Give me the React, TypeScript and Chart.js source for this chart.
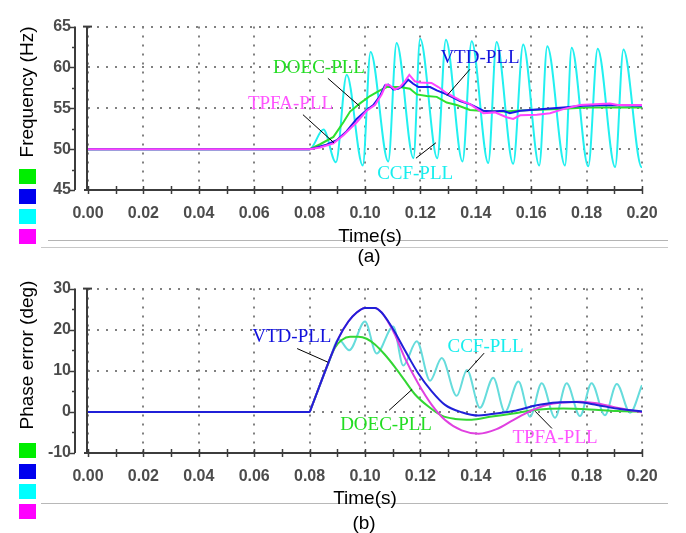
import React, { useEffect, useRef } from 'react';
import { Chart, registerables } from 'chart.js';

Chart.register(...registerables);

type Pt = [number, number];

// ---------- shared time axis ----------
const T_MIN = 0;
const T_MAX = 0.2;
const T_STEP = 0.02;
const T_MINOR = 0.01;

// ---------- (a) frequency (Hz) ----------
const FREQ_MIN = 45;
const FREQ_MAX = 65;
const FREQ_STEP = 5;
const FREQ_MINOR = 2.5;

const FREQ_TPFA: Pt[] = [
  [0, 50], [0.08, 50], [0.0838, 50.2], [0.0886, 50.7], [0.0922, 51.7], [0.097, 53.3],
  [0.1006, 54.7], [0.1036, 55.4], [0.106, 56.7], [0.1076, 57.9], [0.109, 57.8],
  [0.1108, 57.3], [0.1126, 57.6], [0.1144, 58.3], [0.116, 59.1], [0.118, 58.3],
  [0.1199, 58.15], [0.124, 58.1], [0.1265, 57.6], [0.1295, 56.85], [0.1343, 56.0],
  [0.1379, 55.5], [0.1427, 54.4], [0.1469, 54.5], [0.1511, 53.9], [0.1535, 53.7],
  [0.156, 54.15], [0.162, 54.2], [0.1668, 54.4], [0.1716, 54.9], [0.1776, 55.4],
  [0.1884, 55.6], [0.1913, 55.4], [0.2, 55.4],
];
const FREQ_VTD: Pt[] = [
  [0, 50], [0.08, 50], [0.0825, 50.2], [0.0861, 50.55], [0.0898, 51.1], [0.0934, 52.2],
  [0.097, 53.7], [0.1006, 54.8], [0.103, 55.4], [0.1054, 56.5], [0.1072, 57.8],
  [0.1084, 57.9], [0.1102, 57.3], [0.112, 57.4], [0.1138, 57.8], [0.1156, 58.5],
  [0.1174, 58.0], [0.1193, 57.6], [0.1235, 57.6], [0.1259, 57.2], [0.1295, 56.7],
  [0.1343, 55.9], [0.1379, 55.5], [0.1427, 54.7], [0.1463, 54.6], [0.1499, 54.7],
  [0.1523, 54.4], [0.156, 54.7], [0.1644, 54.9], [0.1716, 55.1], [0.1788, 55.3],
  [0.1884, 55.4], [0.2, 55.3],
];
const FREQ_DOEC: Pt[] = [
  [0, 50], [0.08, 50], [0.0838, 50.6], [0.0886, 51.5], [0.0922, 53.3], [0.0946, 54.6],
  [0.0982, 55.6], [0.1018, 56.5], [0.1054, 57.2], [0.1079, 57.6], [0.1126, 57.6],
  [0.1162, 57.4], [0.1187, 56.7], [0.1223, 56.5], [0.1259, 56.4], [0.1295, 55.7],
  [0.1331, 55.4], [0.1379, 54.8], [0.1415, 54.7], [0.15, 54.6], [0.16, 54.8],
  [0.17, 54.9], [0.18, 55.1], [0.19, 55.1], [0.2, 55.1],
];
const FREQ_CCF: Pt[] = [
  [0, 50], [0.08, 50], [0.085, 52.4], [0.0895, 48.4], [0.0934, 59.1], [0.0992, 48.0],
  [0.102, 61.9], [0.1084, 48.5], [0.1114, 63.0], [0.1175, 48.9], [0.1199, 63.5],
  [0.1261, 48.9], [0.1292, 63.4], [0.1352, 48.5], [0.1385, 63.2], [0.1445, 48.3],
  [0.1475, 63.1], [0.1535, 48.2], [0.1571, 62.8], [0.1629, 48.0], [0.1658, 62.6],
  [0.1722, 48.0], [0.1746, 62.4], [0.1806, 47.9], [0.184, 62.3], [0.1903, 47.8],
  [0.1933, 62.2], [0.1999, 47.8], [0.2, 47.9],
];

// ---------- (b) phase error (deg) ----------
const PH_MIN = -10;
const PH_MAX = 30;
const PH_STEP = 10;
const PH_MINOR = 5;

const PH_VTD: Pt[] = [
  [0, 0], [0.08, 0], [0.0806, 1.0], [0.0868, 12.0], [0.0904, 17.9], [0.094, 22.0], [0.097, 24.2],
  [0.1, 25.3], [0.1036, 25.3], [0.106, 24.2], [0.1084, 22.0], [0.1108, 19.4],
  [0.1144, 15.0], [0.1192, 9.4], [0.1241, 5.0], [0.1289, 1.7], [0.1349, -0.1],
  [0.141, -0.9], [0.1451, -0.6], [0.1535, 0.2], [0.162, 1.6], [0.1692, 2.3],
  [0.1764, 2.4], [0.1837, 1.7], [0.1909, 0.8], [0.2, 0.1],
];
const PH_TPFA: Pt[] = [
  [0, 0], [0.08, 0], [0.0806, 1.0], [0.0868, 12.0], [0.0904, 17.9], [0.094, 22.0], [0.097, 24.2],
  [0.1, 25.3], [0.1036, 25.3], [0.106, 24.2], [0.1084, 21.8], [0.1108, 18.8],
  [0.1144, 13.1], [0.1192, 6.9], [0.1241, 1.7], [0.1289, -2.0], [0.1349, -4.5],
  [0.141, -5.3], [0.1475, -4.2], [0.1535, -2.0], [0.1596, 0.2], [0.1656, 1.7],
  [0.1716, 2.3], [0.1776, 2.5], [0.1837, 2.1], [0.1909, 1.0], [0.2, -0.1],
];
const PH_DOEC: Pt[] = [
  [0, 0], [0.08, 0], [0.0806, 1.0], [0.0868, 12.0], [0.0892, 15.7], [0.0916, 17.5], [0.0946, 18.3],
  [0.0976, 18.3], [0.1006, 17.8], [0.1036, 16.4], [0.1072, 13.9], [0.1108, 10.9],
  [0.1144, 7.6], [0.118, 4.3], [0.1229, 1.3], [0.1277, -0.9], [0.1325, -1.7],
  [0.1385, -1.9], [0.1451, -1.2], [0.1535, -0.4], [0.162, 0.5], [0.1716, 0.8],
  [0.1812, 0.6], [0.1909, 0.2], [0.2, 0.1],
];
const PH_CCF: Pt[] = [
  [0, 0], [0.08, 0], [0.0806, 1.0], [0.0868, 11.8], [0.0905, 17.6], [0.0943, 15.0], [0.1, 22.0],
  [0.1042, 14.2], [0.1102, 20.8], [0.1138, 11.3], [0.1187, 17.2], [0.1235, 7.6],
  [0.1277, 13.1], [0.1331, 3.9], [0.1368, 10.2], [0.1415, 1.0], [0.1463, 8.3],
  [0.1505, 0.0], [0.1554, 7.4], [0.1596, -1.2], [0.1638, 7.0], [0.1686, -1.4],
  [0.1728, 7.0], [0.1776, -1.0], [0.1818, 7.0], [0.1866, -0.8], [0.1909, 6.8],
  [0.1957, -0.2], [0.2, 6.5],
];

// ---------- annotations (data coordinates) ----------
type Note = { text: string; color: string; at: Pt; from: Pt; to: Pt };

const FREQ_NOTES: Note[] = [
  { text: 'DOEC-PLL', color: '#22dd22', at: [0.0834, 59.9], from: [0.0866, 58.67], to: [0.0982, 55.22] },
  { text: 'TPFA-PLL', color: '#ff55ff', at: [0.0731, 55.56], from: [0.0776, 54.22], to: [0.0888, 50.78] },
  { text: 'VTD-PLL', color: '#1212dd', at: [0.1415, 61.1], from: [0.1379, 59.78], to: [0.1296, 56.56] },
  { text: 'CCF-PLL', color: '#18eeee', at: [0.1181, 47.0], from: [0.1184, 48.89], to: [0.1256, 50.78] },
];
const PH_NOTES: Note[] = [
  { text: 'VTD-PLL', color: '#1212dd', at: [0.0736, 18.3], from: [0.0755, 15.41], to: [0.0866, 12.1] },
  { text: 'CCF-PLL', color: '#18eeee', at: [0.1435, 15.86], from: [0.143, 14.3], to: [0.1368, 9.67] },
  { text: 'DOEC-PLL', color: '#22dd22', at: [0.1076, -3.15], from: [0.1087, 0.39], to: [0.117, 5.47] },
  { text: 'TPFA-PLL', color: '#ff55ff', at: [0.1686, -6.46], from: [0.1675, -4.03], to: [0.1614, 0.17] },
];

const LEGEND_COLORS = ['#00ee00', '#0000ee', '#00ffff', '#ff00ff'];

const AXIS_COLOR = '#3c3c3c';
const TICK_FONT = { family: '"Liberation Sans", Arial, sans-serif', size: 16, weight: 'bold' as const };

type Series = { points: Pt[]; color: string; width: number; smooth: boolean };

const rulerPlugin = {
  id: 'rulers',
  beforeDatasetsDraw(chart: any, _args: any, opts: any) {
    const { ctx, chartArea } = chart;
    const { left, right, top, bottom } = chartArea;
    const xs = chart.scales.x;
    const ys = chart.scales.y;
    const seg = (x1: number, y1: number, x2: number, y2: number) => {
      ctx.beginPath();
      ctx.moveTo(x1, y1);
      ctx.lineTo(x2, y2);
      ctx.stroke();
    };
    ctx.save();
    ctx.strokeStyle = AXIS_COLOR;
    ctx.lineWidth = 2;
    seg(left - 4, bottom, right + 1, bottom);
    ctx.lineWidth = 1.5;
    const nX = Math.round((xs.max - xs.min) / opts.xMinor);
    for (let i = 0; i <= nX; i++) {
      const px = Math.round(xs.getPixelForValue(xs.min + i * opts.xMinor)) + 0.5;
      seg(px, bottom - 4, px, bottom + 4);
    }
    ctx.lineWidth = 2;
    seg(left - 1, top, left - 1, bottom);
    seg(left - 5, top, left + 4, top);
    const rx = left - 13;
    seg(rx, top, rx, bottom);
    ctx.lineWidth = 1.5;
    const nY = Math.round((ys.max - ys.min) / opts.yMinor);
    for (let i = 0; i <= nY; i++) {
      const v = ys.min + i * opts.yMinor;
      const py = Math.round(ys.getPixelForValue(v)) + 0.5;
      const major = Math.abs(v / opts.yMajor - Math.round(v / opts.yMajor)) < 1e-6;
      seg(rx - (major ? 5 : 3), py, rx, py);
    }
    ctx.restore();
  },
};

const notesPlugin = {
  id: 'notes',
  afterDatasetsDraw(chart: any, _args: any, opts: any) {
    const { ctx } = chart;
    const xs = chart.scales.x;
    const ys = chart.scales.y;
    const notes: Note[] = opts.items || [];
    ctx.save();
    for (const n of notes) {
      ctx.strokeStyle = '#000';
      ctx.lineWidth = 1;
      ctx.beginPath();
      ctx.moveTo(xs.getPixelForValue(n.from[0]), ys.getPixelForValue(n.from[1]));
      ctx.lineTo(xs.getPixelForValue(n.to[0]), ys.getPixelForValue(n.to[1]));
      ctx.stroke();
      ctx.fillStyle = n.color;
      ctx.font = '19px "Liberation Serif", "Times New Roman", serif';
      ctx.textAlign = 'center';
      ctx.textBaseline = 'middle';
      ctx.fillText(n.text, xs.getPixelForValue(n.at[0]), ys.getPixelForValue(n.at[1]));
    }
    ctx.restore();
  },
};

function Panel(props: {
  top: number;
  height: number;
  series: Series[];
  yMin: number;
  yMax: number;
  yStep: number;
  yMinor: number;
  notes: Note[];
}) {
  const ref = useRef<HTMLCanvasElement | null>(null);
  useEffect(() => {
    if (!ref.current) return;
    const chart = new Chart(ref.current, {
      type: 'line',
      data: {
        datasets: props.series.map((s) => ({
          data: s.points.map(([x, y]) => ({ x, y })),
          borderColor: s.color,
          borderWidth: s.width,
          pointRadius: 0,
          fill: false,
          tension: s.smooth ? 0.4 : 0,
          cubicInterpolationMode: s.smooth ? ('monotone' as const) : ('default' as const),
        })),
      },
      options: {
        animation: false,
        responsive: false,
        events: [],
        layout: { padding: { top: 10, right: 44, left: 0, bottom: 10 } },
        plugins: {
          legend: { display: false },
          tooltip: { enabled: false },
          rulers: { xMinor: T_MINOR, yMinor: props.yMinor, yMajor: props.yStep },
          notes: { items: props.notes },
        } as any,
        scales: {
          x: {
            type: 'linear',
            min: T_MIN,
            max: T_MAX,
            afterFit: (s: any) => {
              s.height = 40;
            },
            ticks: {
              stepSize: T_STEP,
              padding: 14,
              autoSkip: false,
              maxRotation: 0,
              color: '#4c4c4c',
              font: TICK_FONT,
              callback: (v: any) => Number(v).toFixed(2),
            },
            grid: { color: '#808080', lineWidth: 2, drawTicks: false },
            border: { display: false, dash: [2, 7] },
          },
          y: {
            type: 'linear',
            min: props.yMin,
            max: props.yMax,
            afterFit: (s: any) => {
              s.width = 88;
            },
            ticks: {
              stepSize: props.yStep,
              padding: 17,
              color: '#4c4c4c',
              font: TICK_FONT,
            },
            grid: { color: '#808080', lineWidth: 2, drawTicks: false },
            border: { display: false, dash: [2, 7] },
          },
        },
      } as any,
      plugins: [rulerPlugin, notesPlugin],
    });
    return () => chart.destroy();
  }, []);
  return (
    <canvas
      ref={ref}
      width={686}
      height={props.height}
      style={{ position: 'absolute', left: 0, top: props.top, width: 686, height: props.height }}
    />
  );
}

const sans = '"Liberation Sans", Arial, sans-serif';

function Legend({ tops }: { tops: number[] }) {
  return (
    <>
      {LEGEND_COLORS.map((c, i) => (
        <div
          key={i}
          style={{ position: 'absolute', left: 19, top: tops[i], width: 17, height: 15, background: c }}
        />
      ))}
    </>
  );
}

function Label(props: { text: string; x: number; y: number; rotate?: boolean }) {
  return (
    <div
      style={{
        position: 'absolute',
        left: props.x,
        top: props.y,
        transform: `translate(-50%, -50%)${props.rotate ? ' rotate(-90deg)' : ''}`,
        whiteSpace: 'nowrap',
        font: `19px ${sans}`,
        lineHeight: 1,
        color: '#000',
      }}
    >
      {props.text}
    </div>
  );
}

function Rule(props: { x1: number; x2: number; y: number; color: string }) {
  return (
    <div
      style={{
        position: 'absolute',
        left: props.x1,
        top: props.y,
        width: props.x2 - props.x1,
        height: 1,
        background: props.color,
      }}
    />
  );
}

export default function App() {
  const freqSeries: Series[] = [
    { points: FREQ_TPFA, color: '#ff44ff', width: 2, smooth: false },
    { points: FREQ_VTD, color: '#1a1ae6', width: 2, smooth: false },
    { points: FREQ_DOEC, color: '#2ee02e', width: 2, smooth: false },
    { points: FREQ_CCF, color: '#22f0f0', width: 2, smooth: true },
  ];
  const phSeries: Series[] = [
    { points: PH_VTD, color: '#2020d8', width: 2, smooth: true },
    { points: PH_TPFA, color: '#e040e0', width: 2, smooth: true },
    { points: PH_DOEC, color: '#33d633', width: 2, smooth: true },
    { points: PH_CCF, color: '#66dcdc', width: 2, smooth: true },
  ];
  return (
    <div
      style={{
        position: 'absolute',
        left: 0,
        top: 0,
        width: 686,
        height: 533,
        background: '#fff',
        overflow: 'hidden',
      }}
    >
      <Panel
        top={0}
        height={240}
        series={freqSeries}
        yMin={FREQ_MIN}
        yMax={FREQ_MAX}
        yStep={FREQ_STEP}
        yMinor={FREQ_MINOR}
        notes={FREQ_NOTES}
      />
      <Panel
        top={262}
        height={241}
        series={phSeries}
        yMin={PH_MIN}
        yMax={PH_MAX}
        yStep={PH_STEP}
        yMinor={PH_MINOR}
        notes={PH_NOTES}
      />
      <Rule x1={48} x2={668} y={240} color="#b4b4b4" />
      <Rule x1={41} x2={668} y={247} color="#c8c8c8" />
      <Rule x1={41} x2={668} y={503} color="#b8b8b8" />
      <Legend tops={[169, 189, 209, 229]} />
      <Legend tops={[443, 464, 484, 504]} />
      <Label text="Frequency (Hz)" x={26} y={92} rotate />
      <Label text="Phase error (deg)" x={26} y={355} rotate />
      <Label text="Time(s)" x={370} y={235} />
      <Label text="(a)" x={369} y={255} />
      <Label text="Time(s)" x={365} y={497} />
      <Label text="(b)" x={364} y={522} />
    </div>
  );
}
